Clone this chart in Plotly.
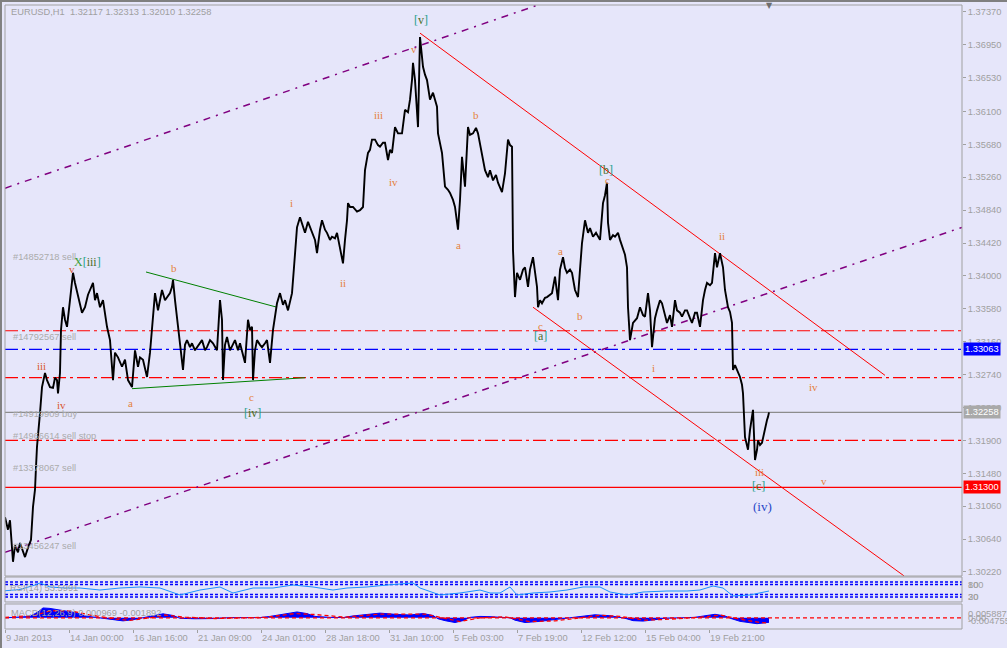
import plotly.graph_objects as go

# ---------------- DATA ----------------
# EURUSD H1 closing path: (bar index, price)
price_path = [
 (0,1.3092),(3,1.3076),(5,1.3088),(8,1.3035),(10,1.3056),(13,1.3047),(15,1.3059),(18,1.3047),(20,1.3041),(23,1.3053),
 (26,1.3063),(28,1.3105),(30,1.3127),(31,1.3156),(32,1.3182),(35,1.3225),(37,1.3258),(40,1.3276),(42,1.3267),(45,1.3258),
 (48,1.3257),(50,1.3270),(52,1.3267),(53,1.3250),(55,1.3276),(56,1.3331),(58,1.3360),(60,1.3344),(62,1.3335),(65,1.3369),
 (68,1.3404),(70,1.3391),(73,1.3373),(75,1.3363),(77,1.3353),(80,1.3360),(83,1.3376),(85,1.3382),(88,1.3391),(90,1.3369),
 (92,1.3378),(95,1.3360),(98,1.3369),(102,1.3335),(105,1.3318),(108,1.3267),(110,1.3302),(113,1.3296),(117,1.3284),(120,1.3293),
 (123,1.3267),(127,1.3258),(130,1.3305),(133,1.3284),(135,1.3296),(138,1.3293),(142,1.3271),(145,1.3302),(147,1.3331),(150,1.3378),
 (153,1.3356),(157,1.3382),(160,1.3369),(162,1.3373),(165,1.3378),(167,1.3386),(168,1.3395),(170,1.3369),(172,1.3348),(175,1.3318),
 (178,1.3280),(180,1.3312),(182,1.3318),(185,1.3309),(187,1.3314),(190,1.3305),(192,1.3309),(195,1.3314),(197,1.3318),(200,1.3305),
 (202,1.3309),(205,1.3318),(208,1.3314),(212,1.3305),(215,1.3369),(217,1.3344),(218,1.3267),(220,1.3312),(222,1.3322),(225,1.3305),
 (228,1.3314),(230,1.3318),(233,1.3305),(235,1.3314),(238,1.3299),(240,1.3289),(243,1.3344),(245,1.3331),(247,1.3335),(248,1.3267),
 (250,1.3305),(252,1.3318),(255,1.3312),(257,1.3309),(260,1.3314),(262,1.3318),(265,1.3289),(268,1.3331),(272,1.3365),(275,1.3378),
 (278,1.3363),(280,1.3369),(283,1.3356),(287,1.3378),(289,1.3411),(292,1.3462),(295,1.3475),(298,1.3461),(300,1.3455),(303,1.3469),
 (305,1.3462),(308,1.3452),(310,1.3446),(312,1.3429),(315,1.3459),(317,1.3471),(320,1.3459),(322,1.3455),(325,1.3446),(327,1.3450),
 (330,1.3448),(332,1.3455),(335,1.3437),(338,1.3416),(340,1.3446),(342,1.3471),(343,1.3493),(345,1.3488),(348,1.3488),(352,1.3482),
 (355,1.3484),(358,1.3488),(360,1.3535),(363,1.3557),(365,1.3561),(367,1.3574),(370,1.3574),(373,1.3567),(375,1.3565),(378,1.3570),
 (380,1.3570),(383,1.3548),(385,1.3561),(387,1.3557),(390,1.3590),(393,1.3582),(397,1.3582),(400,1.3612),(403,1.3609),(405,1.3625),
 (407,1.3650),(408,1.3672),(410,1.3650),(413,1.3590),(415,1.3705),(418,1.3667),(420,1.3657),(422,1.3650),(425,1.3625),(428,1.3634),
 (432,1.3616),(433,1.3582),(437,1.3557),(440,1.3514),(443,1.3510),(445,1.3506),(448,1.3497),(450,1.3488),(453,1.3459),(455,1.3497),
 (457,1.3552),(460,1.3514),(463,1.3590),(465,1.3580),(468,1.3582),(471,1.3589),(473,1.3582),(475,1.3567),(477,1.3552),(480,1.3535),
 (483,1.3526),(485,1.3535),(488,1.3522),(491,1.3529),(493,1.3519),(497,1.3507),(500,1.3531),(503,1.3574),(505,1.3567),(507,1.3565),
 (508,1.3433),(510,1.3373),(512,1.3404),(515,1.3395),(518,1.3408),(520,1.3411),(523,1.3386),(525,1.3408),(528,1.3424),(530,1.3401),
 (532,1.3386),(533,1.3360),(535,1.3369),(537,1.3365),(540,1.3372),(542,1.3373),(545,1.3376),(547,1.3378),(550,1.3399),(553,1.3369),
 (555,1.3408),(558,1.3424),(560,1.3410),(562,1.3404),(565,1.3408),(567,1.3404),(570,1.3382),(573,1.3373),(575,1.3408),(577,1.3442),
 (580,1.3471),(583,1.3455),(585,1.3461),(588,1.3450),(591,1.3455),(595,1.3446),(598,1.3493),(600,1.3503),(602,1.3519),(603,1.3468),
 (605,1.3446),(608,1.3452),(610,1.3450),(613,1.3455),(615,1.3446),(618,1.3433),(620,1.3427),(622,1.3411),(623,1.3360),(625,1.3318),
 (628,1.3340),(632,1.3346),(635,1.3360),(638,1.3350),(640,1.3348),(643,1.3378),(645,1.3356),(647,1.3309),(650,1.3346),(652,1.3356),
 (655,1.3369),(657,1.3365),(660,1.3350),(662,1.3340),(665,1.3350),(667,1.3335),(670,1.3369),(672,1.3356),(675,1.3353),(677,1.3348),
 (680,1.3356),(682,1.3356),(685,1.3346),(687,1.3340),(690,1.3353),(692,1.3353),(695,1.3335),(698,1.3369),(700,1.3382),(702,1.3391),
 (705,1.3388),(707,1.3391),(710,1.3429),(712,1.3411),(715,1.3429),(717,1.3418),(718,1.3411),(720,1.3382),(723,1.3360),(725,1.3354),
 (727,1.3340),(728,1.3280),(730,1.3286),(732,1.3280),(735,1.3271),(737,1.3261),(738,1.3250),(740,1.3194),(742,1.3184),(743,1.3178),
 (745,1.3203),(747,1.3220),(748,1.3229),(750,1.3165),(752,1.3178),(753,1.3190),(755,1.3184),(757,1.3187),(760,1.3207),(762,1.3216),
 (763,1.3220),(764,1.32258),
]

# RSI(14)
rsi_bars = [0, 15, 30, 35, 45, 60, 75, 95, 115, 135, 155, 175, 195, 215, 228, 248, 268, 288, 308, 328,
            342, 362, 382, 408, 415, 435, 455, 475, 485, 495, 505, 512, 528, 545, 562, 578, 595, 605, 622,
            638, 662, 682, 695, 708, 718, 728, 745, 760, 764]
rsi_vals = [45, 50, 68, 76, 60, 56, 56, 48, 56, 60, 56, 28, 48, 60, 36, 56, 56, 68, 60, 48,
            56, 60, 68, 76, 56, 28, 36, 48, 36, 36, 60, 28, 36, 40, 48, 60, 60, 40, 28,
            40, 44, 44, 48, 64, 56, 24, 28, 40, 44]
rsi_levels = [80, 70, 30, 20]

# MACD(12,26,9) histogram and signal
macd_bars = [0, 10, 25, 33, 38, 45, 55, 65, 72, 80, 90, 100, 108, 118, 128, 140, 148, 158, 168, 175,
             190, 210, 225, 240, 255, 265, 280, 292, 302, 310, 325, 338, 348, 362, 375, 390, 405, 418,
             428, 433, 440, 450, 458, 465, 475, 485, 495, 505, 510, 520, 535, 550, 560, 570, 578, 590,
             605, 615, 620, 628, 638, 650, 660, 675, 690, 702, 710, 720, 726, 735, 745, 752, 758, 764]
macd_vals = [0.0000, 0.0003, 0.0006, 0.0025, 0.0042, 0.0040, 0.0034, 0.0025, 0.0021, 0.0008, 0.0002,
             -0.0004, -0.0010, -0.0013, -0.0008, 0.0002, 0.0010, 0.0017, 0.0010, -0.0002,
             -0.0004, -0.0003, 0.0001, 0.0002, 0.0001, 0.0006, 0.0017, 0.0025, 0.0018, 0.0006, 0.0002,
             0.0001, 0.0008, 0.0015, 0.0020, 0.0015, 0.0012, 0.0018, 0.0010, -0.0004, -0.0012, -0.0020,
             -0.0012, 0.0002, 0.0006, 0.0005, 0.0002, 0.0000, -0.0010, -0.0020, -0.0015, -0.0008,
             -0.0002, 0.0001, 0.0006, 0.0013, 0.0009, 0.0003, -0.0002, -0.0012, -0.0014, -0.0008,
             -0.0002, 0.0000, 0.0002, 0.0010, 0.0015, 0.0008, -0.0003, -0.0015, -0.0022, -0.0025,
             -0.0022, -0.0019]
signal_bars = [0, 30, 45, 65, 85, 110, 125, 145, 160, 180, 210, 260, 290, 310, 340, 375, 420, 440, 455,
               475, 500, 525, 550, 575, 595, 615, 640, 660, 700, 715, 735, 755, 764]
signal_vals = [0.0002, 0.0010, 0.0030, 0.0030, 0.0012, -0.0005, -0.0011, 0.0000, 0.0012, 0.0003,
               -0.0003, 0.0002, 0.0018, 0.0014, 0.0003, 0.0016, 0.0016, -0.0003, -0.0016, 0.0000,
               0.0004, -0.0016, -0.0013, 0.0000, 0.0011, 0.0006, -0.0010, -0.0007, 0.0004, 0.0012,
               -0.0006, -0.0020, -0.0022]

# time axis
xtick_bars = [0, 64, 128, 192, 256, 320, 384, 448, 512, 576, 640, 704]
xtick_labels = ["9 Jan 2013", "14 Jan 00:00", "16 Jan 16:00", "21 Jan 09:00", "24 Jan 01:00",
                "28 Jan 18:00", "31 Jan 10:00", "5 Feb 03:00", "7 Feb 19:00", "12 Feb 12:00",
                "15 Feb 04:00", "19 Feb 21:00"]

# price axis
price_ticks = [1.3737, 1.3695, 1.3653, 1.3610, 1.3568, 1.3526, 1.3484, 1.3442, 1.3400, 1.3358,
               1.3316, 1.3274, 1.3232, 1.3190, 1.3148, 1.3106, 1.3064, 1.3022]

# horizontal order / level lines
level_prices = [1.3330, 1.33063, 1.3270, 1.32258, 1.3190, 1.3130]
level_kinds = ["red_dd", "blue_dd", "red_dd", "gray", "red_dd", "red"]

# order comment labels
order_texts = ["#14852718 sell", "#14792567 sell", "#14919909 buy", "#14966614 sell stop",
               "#13378067 sell", "#13456247 sell"]
order_prices = [1.3424, 1.3322, 1.3224, 1.3195, 1.3155, 1.3055]

# highlighted price boxes on the right scale
price_boxes = [("1.33063", 1.33063, "#0000FF"), ("1.32258", 1.32258, "#A9A9A9"), ("1.31300", 1.3130, "#FF0000")]

# trend lines: (bar0, price0, bar1, price1)
purple_lines = [(0, 1.3512, 540, 1.3749), (0, 1.3047, 957, 1.3462)]
red_lines = [(415, 1.3710, 880, 1.3273), (528, 1.3360, 899, 1.3017)]
green_lines = [(141, 1.3405, 272, 1.3360), (127, 1.3256, 300, 1.3270)]

# wave labels (text, bar, price)
orange_labels = [("iii", 36, 1.3285), ("iv", 56, 1.3235), ("v", 67, 1.3409), ("a", 125, 1.3238),
                 ("b", 169, 1.3410), ("c", 246, 1.3245), ("i", 286, 1.3493), ("ii", 338, 1.3391),
                 ("iii", 373, 1.3605), ("iv", 388, 1.3520), ("v", 409, 1.3690), ("a", 453, 1.3439),
                 ("b", 471, 1.3605), ("c", 535, 1.3336), ("a", 555, 1.3432), ("b", 575, 1.3349),
                 ("c", 602, 1.3522), ("i", 648, 1.3282), ("ii", 717, 1.3451), ("iii", 754, 1.3150),
                 ("iv", 808, 1.3258), ("v", 819, 1.3138)]
bracket_labels = [("", "v", 416, 1.3727), ("X", "iii", 82, 1.3418), ("", "iv", 247, 1.3225),
                  ("", "a", 535, 1.3323), ("", "b", 601, 1.3535), ("", "c", 753, 1.3132)]
paren_labels = [("(iv)", 757, 1.3106)]

# ---------------- FIGURE ----------------
BG = "#E6E6FA"
GRAY = "#A0A0A0"
FONT = "Liberation Sans"
FS = 9.3

X_MAX = 957
Y_MIN, Y_MAX = 1.30168, 1.37459
MAIN_DOM = [0.0849, 1.0]
RSI_DOM = [0.0433, 0.0833]
MACD_DOM = [0.0, 0.0401]

fig = go.Figure()

# trend lines
for (b0, p0, b1, p1) in purple_lines:
    fig.add_trace(go.Scatter(x=[b0, b1], y=[p0, p1], mode="lines", yaxis="y",
                             line=dict(color="#800080", width=1.5, dash="7px,6px,2px,6px"),
                             hoverinfo="skip", showlegend=False))
for (b0, p0, b1, p1) in red_lines:
    fig.add_trace(go.Scatter(x=[b0, b1], y=[p0, p1], mode="lines", yaxis="y",
                             line=dict(color="#FF0000", width=1), hoverinfo="skip", showlegend=False))
for (b0, p0, b1, p1) in green_lines:
    fig.add_trace(go.Scatter(x=[b0, b1], y=[p0, p1], mode="lines", yaxis="y",
                             line=dict(color="#008000", width=1), hoverinfo="skip", showlegend=False))

# price
fig.add_trace(go.Scatter(x=[b for b, _ in price_path], y=[p for _, p in price_path],
                         mode="lines", yaxis="y", line=dict(color="#000000", width=1.9),
                         showlegend=False, name="EURUSD"))

# RSI
for lv in rsi_levels:
    fig.add_trace(go.Scatter(x=[0, X_MAX], y=[lv, lv], mode="lines", yaxis="y2",
                             line=dict(color="#0000FF", width=1.5, dash="3px,2px"),
                             hoverinfo="skip", showlegend=False))
fig.add_trace(go.Scatter(x=rsi_bars, y=rsi_vals, mode="lines", yaxis="y2",
                         line=dict(color="#1E90FF", width=1), showlegend=False, name="RSI"))

# MACD
fig.add_trace(go.Scatter(x=macd_bars, y=macd_vals, mode="lines", yaxis="y3", fill="tozeroy",
                         fillcolor="#0000FF", line=dict(color="#0000FF", width=1),
                         showlegend=False, name="MACD"))
fig.add_trace(go.Scatter(x=[0, X_MAX], y=[0, 0], mode="lines", yaxis="y3",
                         line=dict(color="#FF0000", width=1.3, dash="4px,3px"),
                         hoverinfo="skip", showlegend=False))
fig.add_trace(go.Scatter(x=signal_bars, y=signal_vals, mode="lines", yaxis="y3",
                         line=dict(color="#FF0000", width=1.3, dash="4px,3px"),
                         showlegend=False, name="Signal"))

shapes = []
# level lines
styles = {"red_dd": ("#FF0000", "13px,4px,3px,4px"), "blue_dd": ("#0000FF", "13px,4px,3px,4px"),
          "gray": ("#8C8C8C", "solid"), "red": ("#FF0000", "solid")}
for lv, kind in zip(level_prices, level_kinds):
    col, dash = styles[kind]
    shapes.append(dict(type="line", xref="paper", yref="y", x0=0, x1=1, y0=lv, y1=lv,
                       line=dict(color=col, width=1.2, dash=dash), layer="below"))
# panel frames
for dom in (MAIN_DOM, RSI_DOM, MACD_DOM):
    shapes.append(dict(type="rect", xref="paper", yref="paper", x0=0, x1=1, y0=dom[0], y1=dom[1],
                       line=dict(color=GRAY, width=1)))
# window edge
shapes.append(dict(type="line", xref="paper", yref="paper", x0=-0.006, x1=1.05, y0=1.0064, y1=1.0064,
                   line=dict(color="#808080", width=2)))
shapes.append(dict(type="line", xref="paper", yref="paper", x0=-0.0042, x1=-0.0042, y0=-0.04, y1=1.0064,
                   line=dict(color="#808080", width=2)))

ann = []
# header
ann.append(dict(text="EURUSD,H1  1.32117 1.32313 1.32010 1.32258", xref="paper", yref="paper",
                x=0.0042, y=0.9888, xanchor="left", yanchor="middle", showarrow=False,
                font=dict(family=FONT, size=FS, color=GRAY)))
# order labels
for t, p in zip(order_texts, order_prices):
    ann.append(dict(text=t, xref="x", yref="y", x=6, y=p, xanchor="left", yanchor="middle",
                    showarrow=False, font=dict(family=FONT, size=FS, color="#ABABAB")))
# price boxes
for t, p, c in price_boxes:
    ann.append(dict(text=t, xref="paper", yref="y", x=1, y=p, xanchor="left", yanchor="middle",
                    xshift=1, showarrow=False, bgcolor=c, borderpad=1,
                    font=dict(family=FONT, size=FS, color="#FFFFFF")))
# wave labels
for i, (t, b, p) in enumerate(orange_labels):
    col = "#D9582E" if i < 3 else "#E5823A"
    ann.append(dict(text=t, xref="x", yref="y", x=b, y=p, showarrow=False,
                    font=dict(family="Liberation Serif", size=11, color=col)))
BR = "#20A08C"
for pre, t, b, p in bracket_labels:
    txt = (f"<span style='color:#3CA03C'>{pre}</span>" if pre else "") + \
          f"<span style='color:{BR}'>[</span>{t}<span style='color:{BR}'>]</span>"
    ann.append(dict(text=txt, xref="x", yref="y", x=b, y=p, showarrow=False,
                    font=dict(family="Liberation Serif", size=12, color="#4E6E1E")))
for t, b, p in paren_labels:
    ann.append(dict(text=t, xref="x", yref="y", x=b, y=p, showarrow=False,
                    font=dict(family="Liberation Serif", size=13, color="#2848C8")))
# time labels
for b, t in zip(xtick_bars, xtick_labels):
    ann.append(dict(text=t, xref="x", yref="paper", x=b, y=-0.0144, xanchor="left", yanchor="middle",
                    xshift=-1, showarrow=False, font=dict(family=FONT, size=FS, color=GRAY)))
# sub-window texts
sub_txt = [("RSI(14) 53.5991", 0.003, 0.0657, "left"),
           ("MACD(12,26,9) 0.000969 -0.001892", 0.004, 0.0256, "left")]
for t, x, y, a in sub_txt:
    ann.append(dict(text=t, xref="paper", yref="paper", x=x, y=y, xanchor=a, yanchor="middle",
                    showarrow=False, font=dict(family=FONT, size=FS, color=GRAY)))
right_txt = [("100", 0.0705), ("80", 0.0705), ("30", 0.0513), ("20", 0.0513),
             ("0.005887", 0.0240), ("0.00", 0.0176), ("-0.004755", 0.0128)]
for t, y in right_txt:
    ann.append(dict(text=t, xref="paper", yref="paper", x=1, y=y, xanchor="left", yanchor="middle",
                    xshift=4, showarrow=False, font=dict(family=FONT, size=FS, color=GRAY)))
# chart shift marker
ann.append(dict(text="▼", xref="x", yref="paper", x=764, y=1.0, yanchor="middle", showarrow=False,
                font=dict(family="DejaVu Sans", size=8, color="#6E6E6E")))

fig.update_layout(
    width=1007, height=648,
    margin=dict(l=5, r=45, t=5, b=19),
    paper_bgcolor=BG, plot_bgcolor=BG,
    font=dict(family=FONT, size=FS, color=GRAY),
    showlegend=False,
    xaxis=dict(domain=[0, 1], range=[0, X_MAX], anchor="y3", showgrid=False, zeroline=False,
               showline=False, tickvals=xtick_bars, ticktext=[""] * len(xtick_bars),
               ticks="outside", ticklen=3, tickcolor=GRAY, showticklabels=False, fixedrange=True),
    yaxis=dict(domain=MAIN_DOM, range=[Y_MIN, Y_MAX], anchor="x", side="right", showgrid=False,
               zeroline=False, showline=False, tickvals=price_ticks,
               ticktext=[f"{v:.5f}" for v in price_ticks], ticks="outside", ticklen=3,
               tickcolor=GRAY, tickfont=dict(family=FONT, size=FS, color=GRAY)),
    yaxis2=dict(domain=RSI_DOM, range=[0, 100], anchor="x", showgrid=False, zeroline=False,
                showticklabels=False, ticks=""),
    yaxis3=dict(domain=MACD_DOM, range=[-0.004755, 0.005887], anchor="x", showgrid=False,
                zeroline=False, showticklabels=False, ticks=""),
    shapes=shapes,
    annotations=ann,
)

fig.write_html("out.html",
               config={"displayModeBar": False},
               post_script="document.body.style.margin='0';document.body.style.padding='0';"
                           "document.body.style.overflow='hidden';"
                           "document.body.style.background='#E6E6FA';")
